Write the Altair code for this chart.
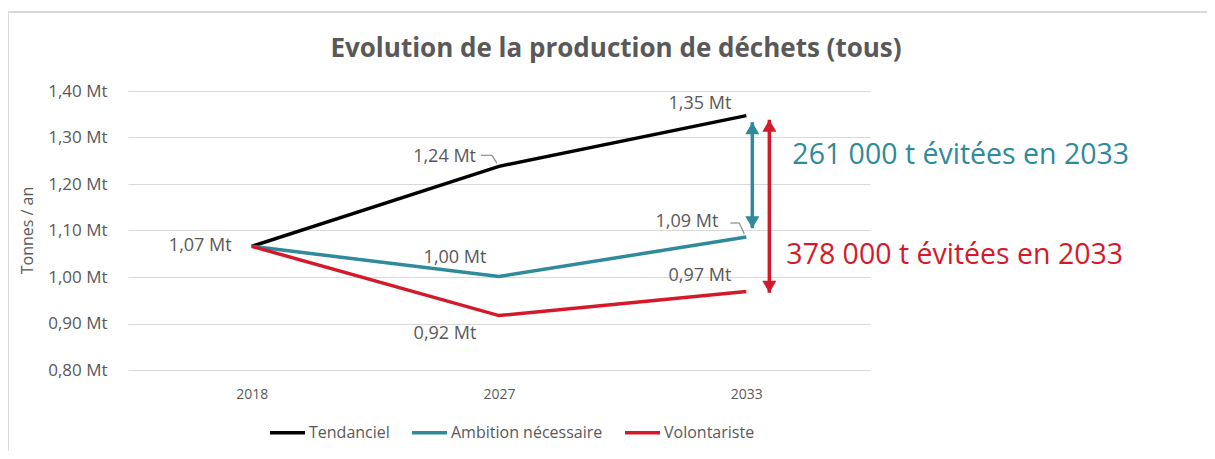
import altair as alt
import pandas as pd

title_text = ["Evolution de la production de déchets (tous)"]
years = ["2018", "2027", "2033"]
series = ["Tendanciel", "Ambition nécessaire", "Volontariste"]
tendanciel = [1.066, 1.238, 1.347]
ambition = [1.066, 1.001, 1.086]
volontariste = [1.066, 0.917, 0.969]
colors = ["#000000", "#2F8A99", "#D41A2A"]

# arrows (series, top value, bottom value) at 2033
arrow_series = ["Ambition nécessaire", "Volontariste"]
arrow_top = [1.333, 1.338]
arrow_bottom = [1.105, 0.966]
annot_text = ["261 000 t évitées en 2033", "378 000 t évitées en 2033"]
annot_y = [1.262, 1.047]

FONT = "Open Sans"
GRAY = "#595959"

rows = []
for s, vals in zip(series, [tendanciel, ambition, volontariste]):
    for y, v in zip(years, vals):
        rows.append({"year": y, "series": s, "value": v,
                     "label": f"{v:.2f}".replace(".", ",") + " Mt"})
df = pd.DataFrame(rows)

W, H = 742, 279
xsc = alt.Scale(domain=years, type="point", padding=0.5)
ysc = alt.Scale(domain=[0.8, 1.4], nice=False, zero=False)
csc = alt.Scale(domain=series, range=colors)
X = alt.X("year:N", scale=xsc, sort=years)
Y = alt.Y("value:Q", scale=ysc)

base = alt.Chart(df)

lines = base.mark_line(strokeWidth=3.5).encode(
    x=alt.X("year:N", scale=xsc, sort=years,
            axis=alt.Axis(title=None, labelAngle=0, domain=False, ticks=False,
                          grid=False, labelFont=FONT, labelFontSize=14,
                          labelColor=GRAY, labelPadding=17)),
    y=alt.Y("value:Q", scale=ysc,
            axis=alt.Axis(title="Tonnes / an", values=[0.8, 0.9, 1.0, 1.1, 1.2, 1.3, 1.4],
                          labelExpr="replace(format(datum.value, '.2f'), '.', ',') + ' Mt'",
                          domain=False, ticks=False, grid=True, gridColor="#d9d9d9",
                          labelFont=FONT, labelFontSize=17, labelColor=GRAY,
                          labelPadding=21, titleFont=FONT, titleFontSize=16,
                          titleFontWeight="normal", titleColor=GRAY,
                          titleX=-101, titleY=139, titleAngle=-90,
                          titleAlign="center", titleBaseline="middle")),
    color=alt.Color("series:N", scale=csc, sort=series,
                    legend=alt.Legend(title=None, orient="none", direction="horizontal",
                                      legendX=140, legendY=322,
                                      symbolType="stroke", symbolSize=1225,
                                      symbolStrokeWidth=3.5, labelFont=FONT,
                                      labelFontSize=16, labelColor=GRAY, labelLimit=400,
                                      labelOffset=2, columnPadding=15)),
)

# label placement (pixel offsets), keyed by (series, year)
placement = {
    ("Tendanciel", "2018"): dict(align="right", dx=-20, dy=0),
    ("Tendanciel", "2027"): dict(align="right", dx=-23, dy=-9),
    ("Tendanciel", "2033"): dict(align="right", dx=-15, dy=-12),
    ("Ambition nécessaire", "2027"): dict(align="center", dx=-44, dy=-19),
    ("Ambition nécessaire", "2033"): dict(align="right", dx=-28, dy=-15),
    ("Volontariste", "2027"): dict(align="center", dx=-54, dy=18),
    ("Volontariste", "2033"): dict(align="right", dx=-15, dy=-15),
}
label_layers = []
for (s, y), p in placement.items():
    label_layers.append(
        base.transform_filter((alt.datum.series == s) & (alt.datum.year == y))
        .mark_text(font=FONT, fontSize=18, color=GRAY, baseline="middle", **p)
        .encode(x=X, y=Y, text="label:N")
    )

# leader lines for 1,24 and 1,09 (pixel offsets from the point)
leaders = {
    ("Tendanciel", "2027"): [(-18, -11, -7, -11), (-7, -11, -2, -3)],
    ("Ambition nécessaire", "2033"): [(-16, -14, -7, -14), (-7, -14, -2, -3)],
}
leader_layers = []
for (s, y), segs in leaders.items():
    for x0, y0, x1, y1 in segs:
        leader_layers.append(
            base.transform_filter((alt.datum.series == s) & (alt.datum.year == y))
            .mark_rule(color="#8c8c8c", strokeWidth=1.2, xOffset=x0, yOffset=y0,
                       x2Offset=x1, y2Offset=y1)
            .encode(x=X, y=Y, x2="year:N", y2="value:Q")
        )

arrow_layers = []
adf = pd.DataFrame({"series": arrow_series, "top": arrow_top, "bottom": arrow_bottom,
                    "year": ["2033", "2033"]})
for s, xo in zip(arrow_series, [6, 23]):
    c = colors[series.index(s)]
    a = alt.Chart(adf).transform_filter(alt.datum.series == s)
    arrow_layers.append(a.mark_rule(strokeWidth=3.5, color=c, xOffset=xo).encode(
        x=X, y=alt.Y("top:Q", scale=ysc), y2="bottom:Q"))
    arrow_layers.append(a.mark_point(shape="M0,0L1,1.7L-1,1.7Z", size=200, filled=True,
                                     fill=c, color=c, opacity=1, strokeWidth=0,
                                     xOffset=xo).encode(
        x=X, y=alt.Y("top:Q", scale=ysc)))
    arrow_layers.append(a.mark_point(shape="M0,0L1,-1.7L-1,-1.7Z", size=200, filled=True,
                                     fill=c, color=c, opacity=1, strokeWidth=0,
                                     xOffset=xo).encode(
        x=X, y=alt.Y("bottom:Q", scale=ysc)))

ann_df = pd.DataFrame({"text": annot_text, "y": annot_y, "series": arrow_series,
                       "year": ["2033", "2033"]})
ann_layers = []
for s, dx in zip(arrow_series, [46, 40]):
    c = colors[series.index(s)]
    ann_layers.append(alt.Chart(ann_df).transform_filter(alt.datum.series == s)
                      .mark_text(font=FONT, fontSize=28.5, color=c, align="left",
                                 baseline="middle", dx=dx)
                      .encode(x=X, y=alt.Y("y:Q", scale=ysc), text="text:N"))

one = pd.DataFrame({"t": title_text})
frame = alt.Chart(one).mark_rect(
    fill=None, stroke="#d9d9d9", strokeWidth=2).encode(
    x=alt.value(-120), x2=alt.value(1100), y=alt.value(-79), y2=alt.value(500))

title = alt.Chart(one).mark_text(font=FONT, fontSize=26, fontWeight="bold", color=GRAY,
                                 align="center", baseline="alphabetic").encode(
    x=alt.value(488), y=alt.value(-34), text="t:N")

chart = alt.layer(frame, title, lines, *arrow_layers, *leader_layers, *label_layers,
                  *ann_layers).properties(
    width=W, height=H,
    background="white",
    autosize=alt.AutoSizeParams(type="none"),
    padding={"left": 120, "top": 83, "right": 337, "bottom": 81},
).configure_view(strokeWidth=0, stroke="transparent")

chart.save("out.html", embed_options={"renderer": "svg", "actions": False})
